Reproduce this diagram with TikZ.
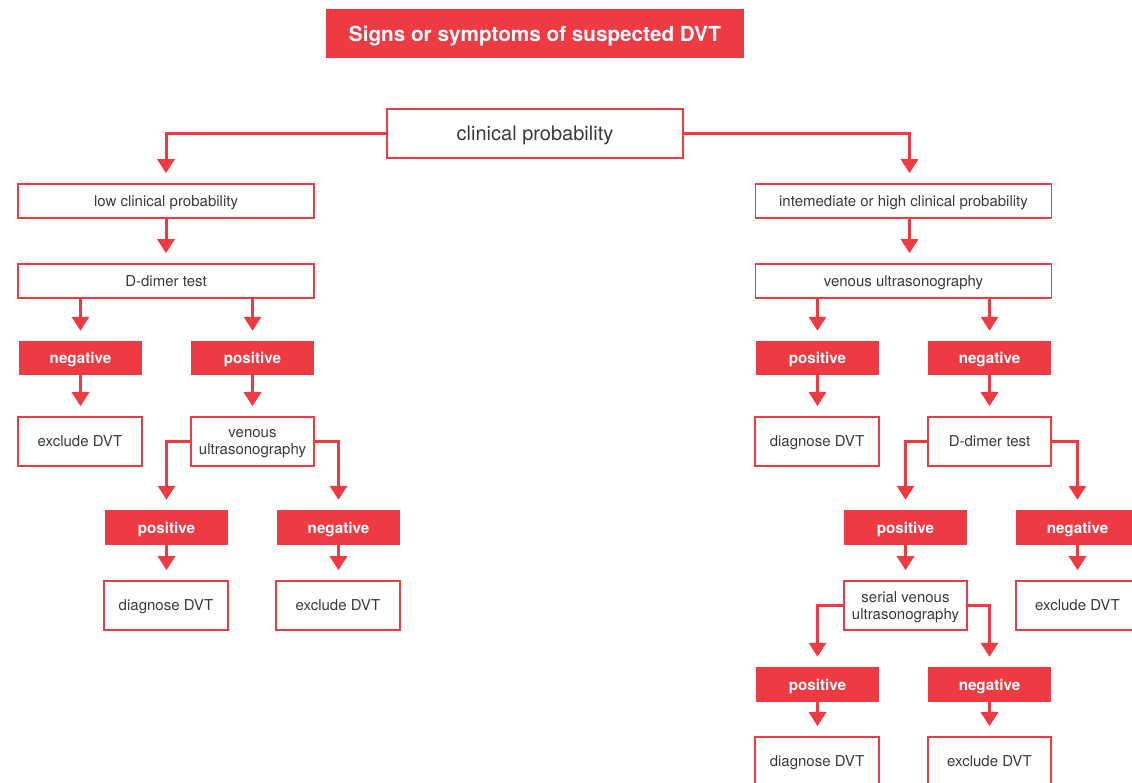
\documentclass[tikz,border=0pt]{standalone}
\usepackage{fontspec}
\setmainfont{TeX Gyre Heros}
\usetikzlibrary{arrows.meta}
\definecolor{dvtred}{HTML}{EE3A43}
\definecolor{txtgray}{HTML}{3A3A3A}
\tikzset{
  x=1pt, y=1pt,
  box/.style={draw=dvtred, line width=1.6pt, fill=white, inner sep=0pt, text=txtgray, font=\fontsize{15}{17}\selectfont, align=center, text depth=0pt},
  redbox/.style={fill=dvtred, draw=none, inner sep=0pt, text=white, font=\fontsize{15.2}{17}\selectfont\bfseries, align=center, text depth=0pt},
  conn/.style={draw=dvtred, line width=3pt, -{Triangle[width=17pt,length=14pt]}, shorten >=10pt},
}
\begin{document}
\begin{tikzpicture}
\useasboundingbox (0,0) rectangle (1132,-782);
% title
\node[redbox, minimum width=418pt, minimum height=49pt, font=\fontsize{20.7}{24}\selectfont\bfseries] (title) at (535,-33.5) {Signs or symptoms of suspected DVT};
\node[box, minimum width=296pt, minimum height=49pt, font=\fontsize{20}{24}\selectfont] (cp) at (535,-133.5) {clinical probability};
% left branch
\node[box, minimum width=296pt, minimum height=34pt] (low) at (166,-201) {low clinical probability};
\node[box, minimum width=296pt, minimum height=34pt] (dd1) at (166,-281) {D-dimer test};
\node[redbox, minimum width=123pt, minimum height=34pt] (neg1) at (80.5,-358) {negative};
\node[redbox, minimum width=123pt, minimum height=34pt] (pos1) at (252.5,-358) {positive};
\node[box, minimum width=124pt, minimum height=49pt] (exc1) at (80,-441.5) {exclude DVT};
\node[box, minimum width=123pt, minimum height=49pt] (vus1) at (252.5,-441.5) {venous\\ultrasonography};
\node[redbox, minimum width=123pt, minimum height=35pt] (pos2) at (166.5,-527.5) {positive};
\node[redbox, minimum width=123pt, minimum height=35pt] (neg2) at (338.5,-527.5) {negative};
\node[box, minimum width=124pt, minimum height=49pt] (diag2) at (166,-605.5) {diagnose DVT};
\node[box, minimum width=124pt, minimum height=49pt] (exc2) at (338,-605.5) {exclude DVT};
% right branch
\node[box, minimum width=296pt, minimum height=34pt] (int) at (903.5,-201) {intemediate or high clinical probability};
\node[box, minimum width=296pt, minimum height=34pt] (vus2) at (903.5,-281) {venous ultrasonography};
\node[redbox, minimum width=123pt, minimum height=34pt] (pos3) at (817.5,-358) {positive};
\node[redbox, minimum width=123pt, minimum height=34pt] (neg3) at (989.5,-358) {negative};
\node[box, minimum width=124pt, minimum height=49pt] (diag3) at (817,-441.5) {diagnose DVT};
\node[box, minimum width=123pt, minimum height=49pt] (dd3) at (989.5,-441.5) {D-dimer test};
\node[redbox, minimum width=123pt, minimum height=35pt] (pos4) at (905.5,-527.5) {positive};
\node[redbox, minimum width=123pt, minimum height=35pt] (neg4) at (1077.5,-527.5) {negative};
\node[box, minimum width=123pt, minimum height=49pt] (serial) at (905.5,-605.5) {serial venous\\ultrasonography};
\node[box, minimum width=123pt, minimum height=49pt] (exc4) at (1077.5,-605.5) {exclude DVT};
\node[redbox, minimum width=123pt, minimum height=35pt] (pos5) at (817.5,-684.5) {positive};
\node[redbox, minimum width=123pt, minimum height=35pt] (neg5) at (989.5,-684.5) {negative};
\node[box, minimum width=124pt, minimum height=49pt] (diag5) at (817,-761.5) {diagnose DVT};
\node[box, minimum width=123pt, minimum height=49pt] (exc5) at (989.5,-761.5) {exclude DVT};
% connectors
\draw[conn] (cp.west) -| (low.north);
\draw[conn] (cp.east) -| ([xshift=6pt]int.north);
\draw[conn] (low.south) -- (dd1.north);
\draw[conn] (dd1.south -| neg1.north) -- (neg1.north);
\draw[conn] (dd1.south -| pos1.north) -- (pos1.north);
\draw[conn] (neg1.south) -- (exc1.north -| neg1.south);
\draw[conn] (pos1.south) -- (vus1.north);
\draw[conn] (vus1.west) -| (pos2.north);
\draw[conn] (vus1.east) -| (neg2.north);
\draw[conn] (pos2.south) -- (diag2.north -| pos2.south);
\draw[conn] (neg2.south) -- (exc2.north -| neg2.south);
\draw[conn] ([xshift=6pt]int.south) -- ([xshift=6pt]vus2.north);
\draw[conn] (vus2.south -| pos3.north) -- (pos3.north);
\draw[conn] (vus2.south -| neg3.north) -- (neg3.north);
\draw[conn] (pos3.south) -- (diag3.north -| pos3.south);
\draw[conn] (neg3.south) -- (dd3.north);
\draw[conn] (dd3.west) -| (pos4.north);
\draw[conn] (dd3.east) -| (neg4.north);
\draw[conn] (pos4.south) -- (serial.north);
\draw[conn] (neg4.south) -- (exc4.north);
\draw[conn] (serial.west) -| (pos5.north);
\draw[conn] (serial.east) -| (neg5.north);
\draw[conn] (pos5.south) -- (diag5.north -| pos5.south);
\draw[conn] (neg5.south) -- (exc5.north);
\end{tikzpicture}
\end{document}
